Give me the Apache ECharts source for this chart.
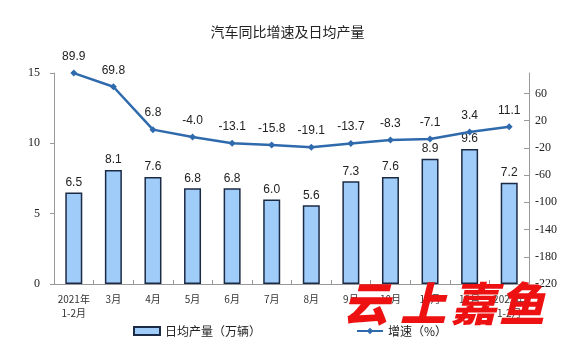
<!DOCTYPE html>
<html lang="zh">
<head>
	<meta charset="utf-8">
	<title>汽车同比增速及日均产量</title>
	<script src="https://cdn.jsdelivr.net/npm/echarts@6/dist/echarts.min.js"></script>
	<style>
		html, body { margin: 0; padding: 0; background: #fff; }
		#chart { width: 575px; height: 355px; }
	</style>
</head>
<body>
<div id="chart"></div>
<script>
var months = ['2021年\n1-2月', '3月', '4月', '5月', '6月', '7月', '8月', '9月', '10月', '11月', '12月', '2022年\n1-2月'];
var dailyOutput = [6.5, 8.1, 7.6, 6.8, 6.8, 6.0, 5.6, 7.3, 7.6, 8.9, 9.6, 7.2];
var growthRate = [89.9, 69.8, 6.8, -4.0, -13.1, -15.8, -19.1, -13.7, -8.3, -7.1, 3.4, 11.1];
var leftTicks = [0, 5, 10, 15];
var rightTicks = [-220, -180, -140, -100, -60, -20, 20, 60];

var sans = '"Liberation Sans", Arial, sans-serif';
var serif = '"Liberation Serif", "DejaVu Serif", serif';
var cjk = '"Noto Sans CJK SC", sans-serif';

// watermark style, shared by the four characters
var mark = { fontFamily: cjk, fontSize: 46, fontWeight: 900, fontStyle: 'italic', fill: '#ee1111' };

echarts.init(document.getElementById('chart')).setOption({
	animation: false,
	title: {
		text: '汽车同比增速及日均产量',
		left: 'center',
		top: 20,
		textStyle: { fontFamily: cjk, fontSize: 14, fontWeight: 'normal', color: '#222' }
	},
	grid: { left: 54, right: 46, top: 73, bottom: 71 },
	legend: {
		bottom: 13,
		left: 128,
		itemGap: 95,
		itemWidth: 26,
		itemHeight: 8,
		textStyle: { fontFamily: cjk, fontSize: 12, color: '#222' },
		data: [
			{ name: '日均产量（万辆）', icon: 'rect' },
			{ name: '增速（%）' }
		]
	},
	xAxis: {
		type: 'category',
		data: months,
		axisLine: { lineStyle: { color: '#999' } },
		axisTick: { show: true, length: 4, inside: true, lineStyle: { color: '#999' } },
		axisLabel: { interval: 0, fontFamily: cjk, fontSize: 10, color: '#333', lineHeight: 14, margin: 8 }
	},
	yAxis: [
		{
			type: 'value',
			min: 0,
			max: 15,
			interval: 5,
			splitLine: { show: false },
			axisLine: { show: true, lineStyle: { color: '#999' } },
			axisTick: { show: true, length: 4, lineStyle: { color: '#999' } },
			axisLabel: {
				fontFamily: serif, fontSize: 12, color: '#222', margin: 14,
				formatter: function (v) { return leftTicks.indexOf(v) >= 0 ? v : ''; }
			}
		},
		{
			type: 'value',
			min: -220,
			max: 90,
			interval: 40,
			splitLine: { show: false },
			axisLine: { show: true, lineStyle: { color: '#999' } },
			axisTick: { show: true, length: 5, inside: true, lineStyle: { color: '#999' } },
			axisLabel: {
				fontFamily: serif, fontSize: 12, color: '#222', margin: 6, showMaxLabel: false,
				formatter: function (v) { return rightTicks.indexOf(v) >= 0 ? v : ''; }
			}
		}
	],
	series: [
		{
			name: '日均产量（万辆）',
			type: 'bar',
			yAxisIndex: 0,
			data: dailyOutput,
			barWidth: 17,
			itemStyle: { color: '#9fccf8', borderColor: '#1c2b45', borderWidth: 1.5 },
			label: {
				show: true, position: 'top', distance: 4,
				fontFamily: sans, fontSize: 12, color: '#222',
				formatter: function (p) { return p.value.toFixed(1); }
			}
		},
		{
			name: '增速（%）',
			type: 'line',
			yAxisIndex: 1,
			data: growthRate,
			symbol: 'diamond',
			symbolSize: 7,
			lineStyle: { color: '#2f6aad', width: 2.5 },
			itemStyle: { color: '#2f6aad' },
			label: {
				show: true, position: 'top', distance: 7,
				fontFamily: sans, fontSize: 12, color: '#222',
				formatter: function (p) { return p.value.toFixed(1); }
			}
		}
	],
	graphic: [
		{ type: 'text', left: 343, top: 281, z: 100, style: Object.assign({ text: '云' }, mark) },
		{ type: 'text', left: 400, top: 281, z: 100, style: Object.assign({ text: '上' }, mark) },
		{ type: 'text', left: 451, top: 281, z: 100, style: Object.assign({ text: '嘉' }, mark) },
		{ type: 'text', left: 499, top: 281, z: 100, style: Object.assign({ text: '鱼' }, mark) }
	]
});
</script>
</body>
</html>
